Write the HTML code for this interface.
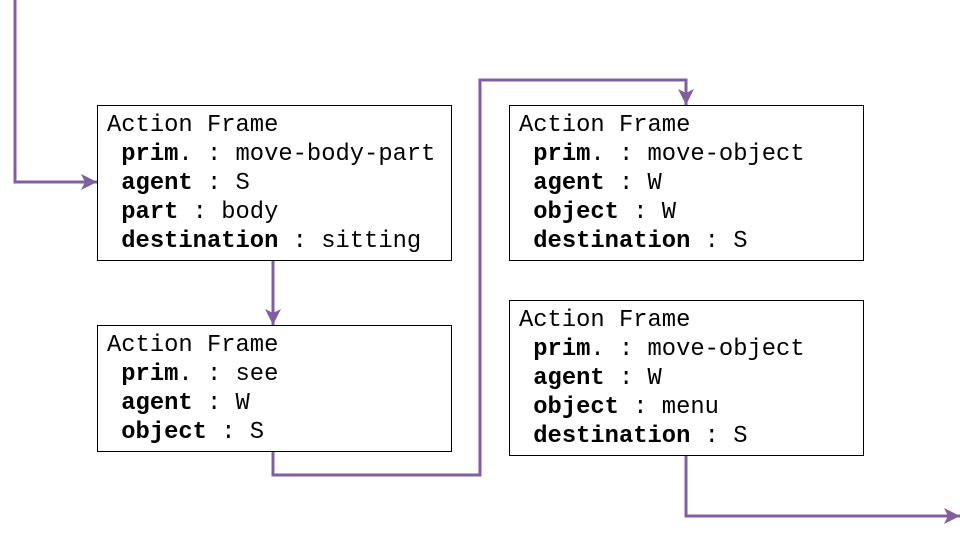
<!DOCTYPE html>
<html><head><style>
body{margin:0;width:960px;height:540px;background:#fff;position:relative;overflow:hidden;font-family:"Courier New","Nimbus Mono PS","Liberation Mono",monospace;}
.b{position:absolute;border:1px solid #000;box-sizing:border-box;padding:5px 0 0 9px;font-size:23.8px;line-height:29px;white-space:pre;color:#000;}
b{font-weight:bold}
svg{position:absolute;left:0;top:0}
</style></head><body>
<svg width="960" height="540">
<defs>
<marker id="m" markerWidth="18" markerHeight="18" refX="16" refY="9" orient="auto" markerUnits="userSpaceOnUse"><path d="M0,1 L16,9 L0,17 L4,9 Z" fill="#7f5fa0"/></marker></defs>
<g fill="none" stroke="#7f5fa0" stroke-width="3">
<polyline points="15,0 15,182 97,182" marker-end="url(#m)"/>
<polyline points="273,260 273,325" marker-end="url(#m)"/>
<polyline points="273,451 273,475 480,475 480,80 686,80 686,105" marker-end="url(#m)"/>
<polyline points="686,455 686,516 960,516" marker-end="url(#m)"/>
</g></svg>
<div class="b" style="left:97px;top:105px;width:355px;height:156px">Action Frame
 <b>prim</b>. : move-body-part
 <b>agent</b> : S
 <b>part</b> : body
 <b>destination</b> : sitting</div>
<div class="b" style="left:97px;top:325px;width:355px;height:127px">Action Frame
 <b>prim</b>. : see
 <b>agent</b> : W
 <b>object</b> : S</div>
<div class="b" style="left:509px;top:105px;width:355px;height:156px">Action Frame
 <b>prim</b>. : move-object
 <b>agent</b> : W
 <b>object</b> : W
 <b>destination</b> : S</div>
<div class="b" style="left:509px;top:300px;width:355px;height:156px">Action Frame
 <b>prim</b>. : move-object
 <b>agent</b> : W
 <b>object</b> : menu
 <b>destination</b> : S</div>
</body></html>
